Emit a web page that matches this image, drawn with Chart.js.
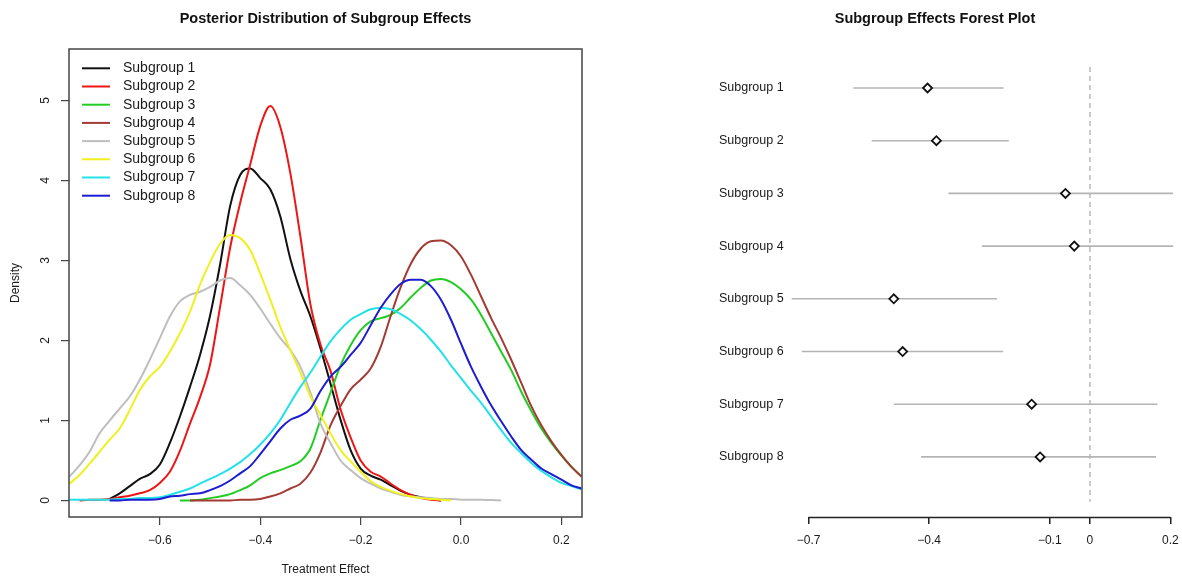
<!DOCTYPE html>
<html>
<head>
<meta charset="utf-8">
<title>Subgroup Effects</title>
<script src="https://cdn.jsdelivr.net/npm/chart.js@4.4.0/dist/chart.umd.min.js"></script>
<style>
  html, body { margin: 0; padding: 0; background: #fff; }
  #wrap { position: relative; width: 1182px; height: 577px; }
  #densityChart { position: absolute; left: 0; top: 0; }
  #forestChart { position: absolute; left: 600px; top: 0; }
</style>
</head>
<body>
<div id="wrap">
  <canvas id="densityChart" width="600" height="577"></canvas>
  <canvas id="forestChart" width="582" height="577"></canvas>
</div>
<script>
// Treatment effect grid the densities are read on
const xGrid = [-0.78, -0.76, -0.74, -0.72, -0.70, -0.68, -0.66, -0.64, -0.62, -0.60,
  -0.58, -0.56, -0.54, -0.52, -0.50, -0.48, -0.46, -0.44, -0.42, -0.40,
  -0.38, -0.36, -0.34, -0.32, -0.30, -0.28, -0.26, -0.24, -0.22, -0.20,
  -0.18, -0.16, -0.14, -0.12, -0.10, -0.08, -0.06, -0.04, -0.02, 0.00,
  0.02, 0.04, 0.06, 0.08, 0.10, 0.12, 0.14, 0.16, 0.18, 0.20, 0.22, 0.24];

const n = null;
const density1 = [n, n, n, n, 0.02, 0.09, 0.18, 0.27, 0.33, 0.45, 0.72, 1.05, 1.42, 1.82, 2.31, 2.95, 3.68, 4.07, 4.15, 4.03,
  3.89, 3.55, 3.02, 2.62, 2.30, 1.90, 1.46, 1.01, 0.63, 0.40, 0.31, 0.26, 0.19, 0.12, 0.07, 0.04, 0.02, 0.0,
  n, n, n, n, n, n, n, n, n, n, n, n, n, n];
const density2 = [n, 0.0, 0.01, 0.01, 0.02, 0.04, 0.06, 0.09, 0.13, 0.22, 0.36, 0.62, 0.96, 1.29, 1.70, 2.42, 3.16, 3.72, 4.20, 4.68,
  4.93, 4.67, 4.09, 3.30, 2.45, 1.95, 1.62, 1.14, 0.79, 0.50, 0.36, 0.30, 0.21, 0.13, 0.07, 0.03, 0.01, 0.0,
  n, n, n, n, n, n, n, n, n, n, n, n, n, n];
const density3 = [n, n, n, n, n, n, n, n, n, n, n, 0.0, 0.0, 0.01, 0.03, 0.05, 0.08, 0.13, 0.19, 0.28,
  0.34, 0.38, 0.43, 0.49, 0.65, 1.01, 1.35, 1.69, 1.94, 2.13, 2.24, 2.28, 2.32, 2.41, 2.54, 2.66, 2.75, 2.77,
  2.73, 2.64, 2.51, 2.32, 2.09, 1.86, 1.63, 1.36, 1.12, 0.90, 0.72, 0.56, 0.42, 0.30];
const density4 = [n, n, n, n, n, n, n, n, n, n, n, n, 0.0, 0.0, 0.0, 0.0, 0.0, 0.01, 0.01, 0.02,
  0.05, 0.09, 0.15, 0.21, 0.35, 0.60, 0.94, 1.18, 1.39, 1.51, 1.65, 1.92, 2.31, 2.67, 2.96, 3.15, 3.24, 3.25,
  3.19, 3.05, 2.82, 2.55, 2.28, 2.03, 1.76, 1.47, 1.18, 0.94, 0.74, 0.57, 0.42, 0.30];
const density5 = [0.30, 0.44, 0.61, 0.84, 1.00, 1.15, 1.30, 1.51, 1.76, 2.03, 2.30, 2.49, 2.57, 2.61, 2.67, 2.75, 2.78, 2.69, 2.57, 2.40,
  2.21, 2.03, 1.88, 1.67, 1.35, 0.96, 0.72, 0.50, 0.38, 0.28, 0.21, 0.15, 0.11, 0.07, 0.05, 0.04, 0.03, 0.02,
  0.02, 0.01, 0.01, 0.01, 0.005, 0.0, n, n, n, n, n, n, n, n];
const density6 = [0.21, 0.32, 0.46, 0.61, 0.76, 0.90, 1.13, 1.38, 1.55, 1.67, 1.86, 2.09, 2.36, 2.70, 2.98, 3.21, 3.32, 3.28, 3.13, 2.84,
  2.51, 2.17, 1.88, 1.60, 1.30, 1.07, 0.84, 0.63, 0.49, 0.36, 0.24, 0.17, 0.12, 0.08, 0.05, 0.03, 0.02, 0.01,
  0.0, n, n, n, n, n, n, n, n, n, n, n, n, n];
const density7 = [0.01, 0.01, 0.01, 0.01, 0.01, 0.02, 0.02, 0.03, 0.03, 0.04, 0.07, 0.11, 0.15, 0.21, 0.27, 0.33, 0.40, 0.48, 0.58, 0.70,
  0.84, 1.01, 1.22, 1.42, 1.60, 1.80, 1.99, 2.14, 2.26, 2.33, 2.39, 2.41, 2.39, 2.33, 2.25, 2.14, 2.01, 1.86,
  1.69, 1.53, 1.37, 1.22, 1.05, 0.88, 0.72, 0.59, 0.47, 0.37, 0.29, 0.22, 0.18, 0.14];
const density8 = [n, n, n, n, 0.0, 0.0, 0.01, 0.01, 0.01, 0.02, 0.05, 0.06, 0.08, 0.09, 0.13, 0.18, 0.25, 0.34, 0.43, 0.58,
  0.74, 0.90, 1.01, 1.06, 1.15, 1.37, 1.55, 1.67, 1.82, 1.97, 2.19, 2.41, 2.58, 2.71, 2.76, 2.76, 2.68, 2.51,
  2.26, 1.96, 1.67, 1.42, 1.19, 0.99, 0.80, 0.63, 0.51, 0.40, 0.33, 0.26, 0.19, 0.15];

const subgroupNames = ['Subgroup 1', 'Subgroup 2', 'Subgroup 3', 'Subgroup 4',
  'Subgroup 5', 'Subgroup 6', 'Subgroup 7', 'Subgroup 8'];
const subgroupColors = ['#111111', '#ee1515', '#22cc22', '#a33a33',
  '#bebebe', '#f0f020', '#22e2e8', '#1c1cd0'];

const densityTicksX = [-0.6, -0.4, -0.2, 0.0, 0.2];
const densityTicksY = [0, 1, 2, 3, 4, 5];

// Forest plot: posterior mean and interval per subgroup
const estimates = [-0.404, -0.382, -0.061, -0.039, -0.488, -0.466, -0.145, -0.124];
const ciLower = [-0.589, -0.543, -0.352, -0.269, -0.742, -0.717, -0.488, -0.420];
const ciUpper = [-0.215, -0.202, 0.207, 0.207, -0.231, -0.216, 0.168, 0.164];
const forestTicksX = [-0.7, -0.4, -0.1, 0, 0.2];
const zeroLineSpan = [0.6, 8.85];

const FONT = '"Liberation Sans", Arial, Helvetica, sans-serif';
Chart.defaults.font.family = FONT;
Chart.defaults.color = '#1a1a1a';

const minus = v => (v < 0 ? '\u2212' : '');

// box round the plotting region
const plotBox = {
  id: 'plotBox',
  afterDraw(chart) {
    const { ctx, chartArea: a } = chart;
    ctx.save();
    ctx.strokeStyle = '#444';
    ctx.lineWidth = 1.5;
    ctx.strokeRect(a.left, a.top, a.width, a.height);
    ctx.restore();
  }
};

// legend drawn inside the top left corner
const insideLegend = {
  id: 'insideLegend',
  afterDraw(chart) {
    const { ctx, chartArea: a } = chart;
    ctx.save();
    ctx.font = '14px ' + FONT;
    ctx.textBaseline = 'middle';
    chart.data.datasets.forEach((ds, i) => {
      const y = a.top + 19.3 + i * 18.2;
      ctx.strokeStyle = ds.borderColor;
      ctx.lineWidth = 2;
      ctx.beginPath();
      ctx.moveTo(a.left + 13, y);
      ctx.lineTo(a.left + 41, y);
      ctx.stroke();
      ctx.fillStyle = '#1a1a1a';
      ctx.fillText(ds.label, a.left + 54, y);
    });
    ctx.restore();
  }
};

// axis line only between the first and last tick
const forestAxisLine = {
  id: 'forestAxisLine',
  afterDraw(chart) {
    const s = chart.scales.x;
    const { ctx } = chart;
    const y = chart.chartArea.bottom + 0.5;
    ctx.save();
    ctx.strokeStyle = '#222';
    ctx.lineWidth = 1.5;
    ctx.beginPath();
    ctx.moveTo(s.getPixelForValue(forestTicksX[0]), y);
    ctx.lineTo(s.getPixelForValue(forestTicksX[forestTicksX.length - 1]), y);
    ctx.stroke();
    ctx.restore();
  }
};

const densitySeries = [density1, density2, density3, density4, density5, density6, density7, density8];

// 1. Posterior densities
new Chart(document.getElementById('densityChart'), {
  type: 'line',
  data: {
    datasets: densitySeries.map((ys, i) => ({
      label: subgroupNames[i],
      data: xGrid.map((x, j) => ({ x: x, y: ys[j] })),
      borderColor: subgroupColors[i],
      borderWidth: 2,
      pointRadius: 0,
      cubicInterpolationMode: 'monotone',
      order: densitySeries.length - i
    }))
  },
  options: {
    responsive: false,
    animation: false,
    layout: { autoPadding: false, padding: { left: 0, right: 18, top: 0, bottom: 0 } },
    plugins: {
      legend: { display: false },
      tooltip: { enabled: false },
      title: {
        display: true,
        fullSize: false,
        text: 'Posterior Distribution of Subgroup Effects',
        font: { size: 14.5, weight: 'bold' },
        color: '#111',
        padding: { top: 10.3, bottom: 21.3 }
      }
    },
    scales: {
      x: {
        type: 'linear',
        min: -0.781,
        max: 0.241,
        afterBuildTicks: s => { s.ticks = densityTicksX.map(v => ({ value: v })); },
        afterFit: s => { s.height = 60; s.paddingLeft = 0; s.paddingRight = 0; },
        ticks: {
          font: { size: 12 },
          padding: 8.8,
          maxRotation: 0,
          callback: v => minus(v) + Math.abs(v).toFixed(1)
        },
        grid: { drawOnChartArea: false, tickLength: 8, color: '#444', lineWidth: 1.2 },
        border: { display: false },
        title: { display: true, text: 'Treatment Effect', font: { size: 12 }, padding: { top: 0, bottom: 0 } }
      },
      y: {
        type: 'linear',
        min: -0.206,
        max: 5.644,
        afterBuildTicks: s => { s.ticks = densityTicksY.map(v => ({ value: v })); },
        afterFit: s => { s.width = 69; s.paddingTop = 0; s.paddingBottom = 0; },
        ticks: {
          font: { size: 12 },
          minRotation: 90,
          maxRotation: 90,
          crossAlign: 'center',
          padding: 11.6,
          callback: v => String(v)
        },
        grid: { drawOnChartArea: false, tickLength: 8, color: '#444', lineWidth: 1.2 },
        border: { display: false },
        title: { display: true, text: 'Density', font: { size: 12 }, padding: { top: 8, bottom: 0 } }
      }
    }
  },
  plugins: [plotBox, insideLegend]
});

// 2. Forest plot
const forestDatasets = [{
  data: estimates.map((v, i) => ({ x: v, y: i + 1 })),
  showLine: false,
  pointStyle: 'rectRot',
  pointRadius: 4.5,
  pointBackgroundColor: '#fff',
  pointBorderColor: '#111',
  pointBorderWidth: 1.8,
  order: 0
}];
ciLower.forEach((lo, i) => {
  forestDatasets.push({
    data: [{ x: lo, y: i + 1 }, { x: ciUpper[i], y: i + 1 }],
    borderColor: '#b4b4b4',
    borderWidth: 1.6,
    pointRadius: 0,
    order: 1
  });
});
forestDatasets.push({
  data: zeroLineSpan.map(y => ({ x: 0, y: y })),
  borderColor: '#b4b4b4',
  borderWidth: 1.4,
  borderDash: [5, 4],
  pointRadius: 0,
  order: 2
});

new Chart(document.getElementById('forestChart'), {
  type: 'line',
  data: { datasets: forestDatasets },
  options: {
    responsive: false,
    animation: false,
    layout: { autoPadding: false, padding: { left: 0, right: 2, top: 0, bottom: 0 } },
    plugins: {
      legend: { display: false },
      tooltip: { enabled: false },
      title: {
        display: true,
        fullSize: false,
        text: 'Subgroup Effects Forest Plot',
        font: { size: 14.5, weight: 'bold' },
        color: '#111',
        padding: { top: 10.3, bottom: 21.3 }
      }
    },
    scales: {
      x: {
        type: 'linear',
        min: -0.995,
        max: 0.224,
        afterBuildTicks: s => { s.ticks = forestTicksX.map(v => ({ value: v })); },
        afterFit: s => { s.height = 60; s.paddingLeft = 0; s.paddingRight = 0; },
        ticks: {
          font: { size: 12 },
          padding: 9.8,
          maxRotation: 0,
          callback: v => minus(v) + String(Math.abs(v))
        },
        grid: { drawOnChartArea: false, tickLength: 7, color: '#222', lineWidth: 1.5 },
        border: { display: false }
      },
      y: {
        type: 'linear',
        reverse: true,
        min: 0.26,
        max: 9.14,
        afterBuildTicks: s => { s.ticks = subgroupNames.map((_, i) => ({ value: i + 1 })); },
        afterFit: s => { s.width = 90; s.paddingTop = 0; s.paddingBottom = 0; },
        ticks: {
          mirror: true,
          padding: 29,
          font: { size: 12.5 },
          color: '#1a1a1a',
          callback: v => subgroupNames[v - 1]
        },
        grid: { display: false, drawTicks: false },
        border: { display: false }
      }
    }
  },
  plugins: [forestAxisLine]
});
</script>
</body>
</html>
